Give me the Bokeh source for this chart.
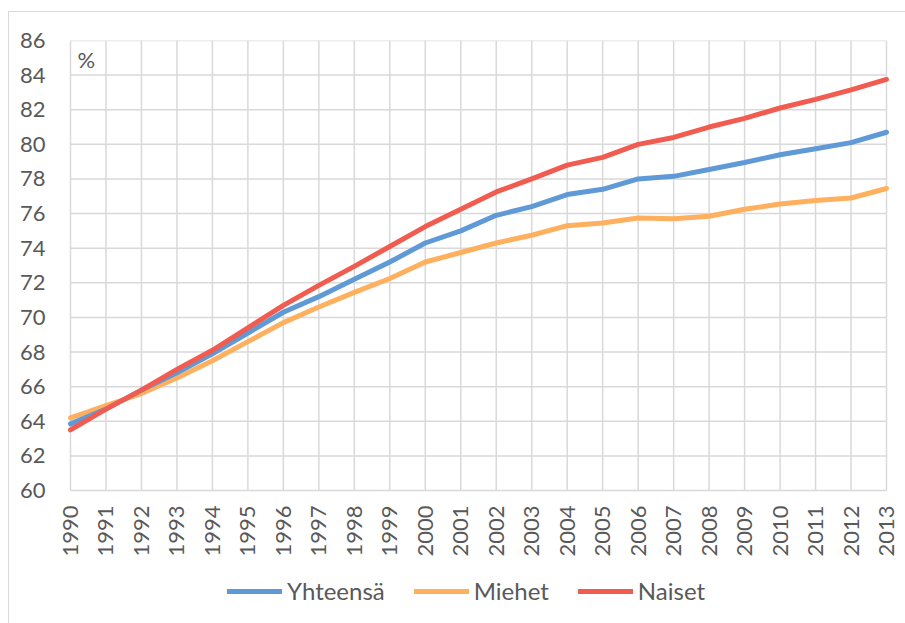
import math
from bokeh.plotting import figure
from bokeh.models import Legend, LegendItem, Label, FixedTicker, Range1d, InlineStyleSheet
from bokeh.embed import file_html
from bokeh.resources import INLINE

years = list(range(1990, 2014))
yhteensa = [63.85, 64.7, 65.8, 66.8, 67.9, 69.1, 70.3, 71.2, 72.2, 73.2, 74.3, 75.0, 75.9, 76.4,
            77.1, 77.4, 78.0, 78.15, 78.55, 78.95, 79.4, 79.75, 80.1, 80.7]
miehet = [64.2, 64.9, 65.6, 66.5, 67.5, 68.6, 69.7, 70.6, 71.45, 72.25, 73.2, 73.75, 74.3, 74.75,
          75.3, 75.45, 75.75, 75.7, 75.85, 76.25, 76.55, 76.75, 76.9, 77.45]
naiset = [63.5, 64.7, 65.8, 67.0, 68.1, 69.4, 70.7, 71.85, 72.95, 74.1, 75.25, 76.25, 77.25, 78.0,
          78.8, 79.25, 80.0, 80.4, 81.0, 81.5, 82.1, 82.6, 83.15, 83.75]
y_ticks = list(range(60, 88, 2))

FONT = "Lato"
TXT = "#595959"
GRID = "#d9d9d9"

# layout (pixels): frame 58..897 x 40..615; 1990 at 70px, 2013 at 886px; 86 at 40px, 60 at 490px
FRAME_L, FRAME_R, X0_PX, X1_PX = 58, 897, 70, 886
PX_PER_YEAR = (X1_PX - X0_PX) / (years[-1] - years[0])
x_lo = years[0] - (X0_PX - FRAME_L) / PX_PER_YEAR
x_hi = years[-1] + (FRAME_R - X1_PX) / PX_PER_YEAR
PX_PER_UNIT = 450 / 26
y_lo = 86 - (615 - 40) / PX_PER_UNIT

border_css = InlineStyleSheet(css=""":host::after { content: ''; position: absolute; left: 8px; top: 11px;
  width: 920px; height: 640px; border: 1.5px solid #d9d9d9; pointer-events: none; }""")

p = figure(width=897, height=615, output_backend="svg", toolbar_location=None,
           x_range=Range1d(x_lo, x_hi), y_range=Range1d(y_lo, 86),
           min_border_left=FRAME_L, min_border_right=0, min_border_top=40, min_border_bottom=0,
           stylesheets=[border_css])
p.outline_line_color = None
p.background_fill_color = None
p.border_fill_color = None

p.xgrid.visible = False
p.ygrid.visible = False
p.segment(x0=years, y0=[y_ticks[0]] * len(years), x1=years, y1=[y_ticks[-1]] * len(years),
          line_color=GRID, line_width=1.5)
p.segment(x0=[years[0]] * len(y_ticks), y0=y_ticks, x1=[years[-1]] * len(y_ticks), y1=y_ticks,
          line_color=GRID, line_width=1.5)

p.xaxis.ticker = FixedTicker(ticks=years)
p.yaxis.ticker = FixedTicker(ticks=y_ticks)
p.xaxis.fixed_location = y_ticks[0]
for ax in (p.xaxis, p.yaxis):
    ax.axis_line_color = None
    ax.major_tick_line_color = None
    ax.minor_tick_line_color = None
    ax.major_tick_in = 0
    ax.major_tick_out = 0
    ax.major_label_text_font = FONT
    ax.major_label_text_font_size = "22px"
    ax.major_label_text_color = TXT
p.xaxis.major_label_orientation = math.pi / 2
p.xaxis.major_label_standoff = 15
p.yaxis.major_label_standoff = 13

r2 = p.line(years, miehet, line_color="#ffb05f", line_width=5, line_join="round", line_cap="round")
r1 = p.line(years, yhteensa, line_color="#5f99d6", line_width=5, line_join="round", line_cap="round")
r3 = p.line(years, naiset, line_color="#f15c50", line_width=5, line_join="round", line_cap="round")

p.add_layout(Label(x=1990.2, y=85.7, text="%", text_font=FONT, text_font_size="22px",
                   text_color=TXT, text_baseline="top"))

legend = Legend(items=[LegendItem(label="Yhteensä", renderers=[r1]),
                       LegendItem(label="Miehet", renderers=[r2]),
                       LegendItem(label="Naiset", renderers=[r3])],
                orientation="horizontal", location=(169, 10),
                glyph_width=55, glyph_height=26, label_height=26, label_standoff=5, spacing=29,
                padding=0, margin=0, border_line_color=None, background_fill_alpha=0,
                label_text_font=FONT, label_text_font_size="24px", label_text_color=TXT)
p.add_layout(legend, "center")

open("out.html", "w").write(file_html(p, INLINE))
